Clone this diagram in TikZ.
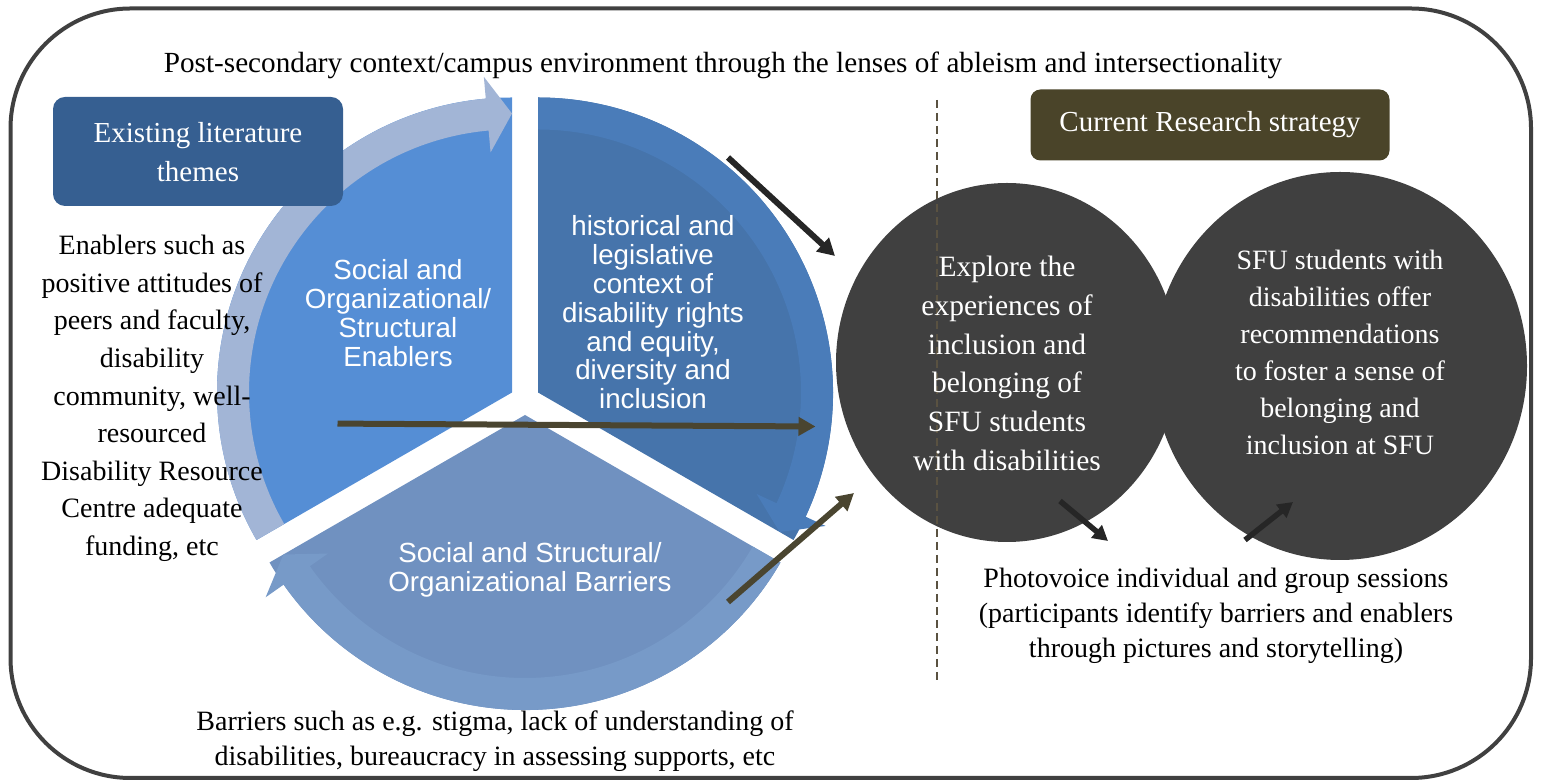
\documentclass[tikz,border=0pt]{standalone}
\usepackage{fontspec}
\setmainfont{Liberation Serif}
\setsansfont{Liberation Sans}
\usetikzlibrary{arrows.meta,shapes.geometric}
\definecolor{secL}{HTML}{558ED5}
\definecolor{bandL}{HTML}{A2B5D6}
\definecolor{secR}{HTML}{4674AB}
\definecolor{bandR}{HTML}{4A7CB9}
\definecolor{secB}{HTML}{7091C0}
\definecolor{bandB}{HTML}{779AC8}
\definecolor{boxblue}{HTML}{365F91}
\definecolor{boxolive}{HTML}{4A4429}
\definecolor{arrolive}{HTML}{4A4530}
\definecolor{arrdark}{HTML}{262626}
\definecolor{circfill}{HTML}{404040}
\definecolor{framec}{HTML}{404040}
\definecolor{dashc}{HTML}{5A5241}
\begin{document}
\begin{tikzpicture}[x=1pt,y=1pt,
  serif/.style={font=\fontsize{29}{37.6}\selectfont, align=center, inner sep=0pt},
  sectext/.style={font=\sffamily\fontsize{27.7}{28.8}\selectfont, align=center, inner sep=0pt, text=white},
  olivearrow/.style={arrolive, line width=6pt, -{Triangle[length=17pt,width=18pt]}},
  darkarrow/.style={arrdark, line width=6pt, -{Triangle[length=17pt,width=18pt]}},
  smallarrow/.style={arrdark, line width=5.5pt, -{Triangle[length=15pt,width=16pt]}},
  titlebox/.style={rounded corners=12pt, inner sep=0pt, text=white},
  darkcirc/.style={ellipse, fill=circfill, inner sep=0pt}
]
\useasboundingbox (0,0) rectangle (1544,781);
% outer frame
\draw[framec, line width=4pt, rounded corners=120pt] (10.5,3) rectangle (1531,772.5);

% title
\node[serif, font=\fontsize{29.2}{35}\selectfont] (title) at (723,716) {Post-secondary context/campus environment through the lenses of ableism and intersectionality};

% cycle: left sector
\begin{scope}[shift={(512,388.5)}]
  \fill[secL] (0,0) -- (90:295) arc[start angle=90, end angle=210, radius=295] -- cycle;
  \fill[bandL] (210:295) arc[start angle=210, end angle=95.1, radius=295] -- (95.1:317) -- (90:279) -- (95.1:241) -- (95.1:263) arc[start angle=95.1, end angle=210, radius=263] -- cycle;
\end{scope}
% right sector
\begin{scope}[shift={(538,388.5)}]
  \fill[secR] (0,0) -- (-30:295) arc[start angle=-30, end angle=90, radius=295] -- cycle;
  \fill[bandR] (90:295) arc[start angle=90, end angle=-24.9, radius=295] -- (-24.9:317) -- (-30:279) -- (-24.9:241) -- (-24.9:263) arc[start angle=-24.9, end angle=90, radius=263] -- cycle;
\end{scope}
% bottom sector
\begin{scope}[shift={(525,366)}]
  \fill[secB] (0,0) -- (210:295) arc[start angle=210, end angle=330, radius=295] -- cycle;
  \fill[bandB] (330:295) arc[start angle=330, end angle=215.1, radius=295] -- (215.1:317) -- (210:279) -- (215.1:241) -- (215.1:263) arc[start angle=215.1, end angle=330, radius=263] -- cycle;
\end{scope}

% sector texts
\node[sectext] (tL) at (398,468) {Social and\\Organizational/\\Structural\\Enablers};
\node[sectext] (tR) at (653,468.5) {historical and\\legislative\\context of\\disability rights\\and equity,\\diversity and\\inclusion};
\node[sectext] (tB) at (530,211) {Social and Structural/\\Organizational Barriers};

% existing literature box
\node[titlebox, fill=boxblue, minimum width=290pt, minimum height=109pt] (lit) at (198,629.5) {};
\node[serif, text=white, font=\fontsize{29}{39}\selectfont] (littext) at (198,628.5) {Existing literature\\themes};

% enablers text
\node[serif, font=\fontsize{28}{37.6}\selectfont] (enab) at (152,382.5) {Enablers such as\\positive attitudes of\\peers and faculty,\\disability\\community, well-\\resourced\\Disability Resource\\Centre adequate\\funding, etc};

% barriers text
\node[serif, font=\fontsize{28}{35}\selectfont] (barr) at (495,39.5) {Barriers such as e.g. stigma, lack of understanding of\\disabilities, bureaucracy in assessing supports, etc};

% circles
\node[darkcirc, minimum width=342pt, minimum height=359pt] (c1) at (1007,418.5) {};
\node[darkcirc, minimum width=374pt, minimum height=388pt] (c2) at (1340,415) {};

% dashed divider
\coordinate (dtop) at (937,681);
\coordinate (dbot) at (937,101);
\draw[dashc, line width=1.5pt, dash pattern=on 8pt off 5pt] (dtop) -- (dbot);

\node[serif, text=white, font=\fontsize{29.5}{38.7}\selectfont] (c1text) at (1007,417.6) {Explore the\\experiences of\\inclusion and\\belonging of\\SFU students\\with disabilities};
\node[serif, text=white, font=\fontsize{28}{37}\selectfont] (c2text) at (1340,428.5) {SFU students with\\disabilities offer\\recommendations\\to foster a sense of\\belonging and\\inclusion at SFU};

% current research box
\node[titlebox, rounded corners=10pt, fill=boxolive, minimum width=359pt, minimum height=71pt] (crs) at (1210,656) {};
\node[serif, text=white] (crstext) at (1210,656) {Current Research strategy};

% photovoice
\node[serif, font=\fontsize{28}{35}\selectfont] (photo) at (1216,165.5) {Photovoice individual and group sessions\\(participants identify barriers and enablers\\through pictures and storytelling)};

% connectors
\coordinate (h1) at (337.5,357.4);
\coordinate (h2) at (815.5,354.5);
\draw[olivearrow] (h1) -- (h2);
\coordinate (b1) at (728,179);
\coordinate (b2) at (854,288);
\draw[olivearrow] (b1) -- (b2);
\coordinate (t1) at (728,623.5);
\coordinate (t2) at (835,525);
\draw[darkarrow] (t1) -- (t2);
\coordinate (p1) at (1060,280);
\coordinate (p2) at (1108,240);
\draw[smallarrow] (p1) -- (p2);
\coordinate (q1) at (1245,241);
\coordinate (q2) at (1293,279);
\draw[smallarrow] (q1) -- (q2);
\end{tikzpicture}
\end{document}
